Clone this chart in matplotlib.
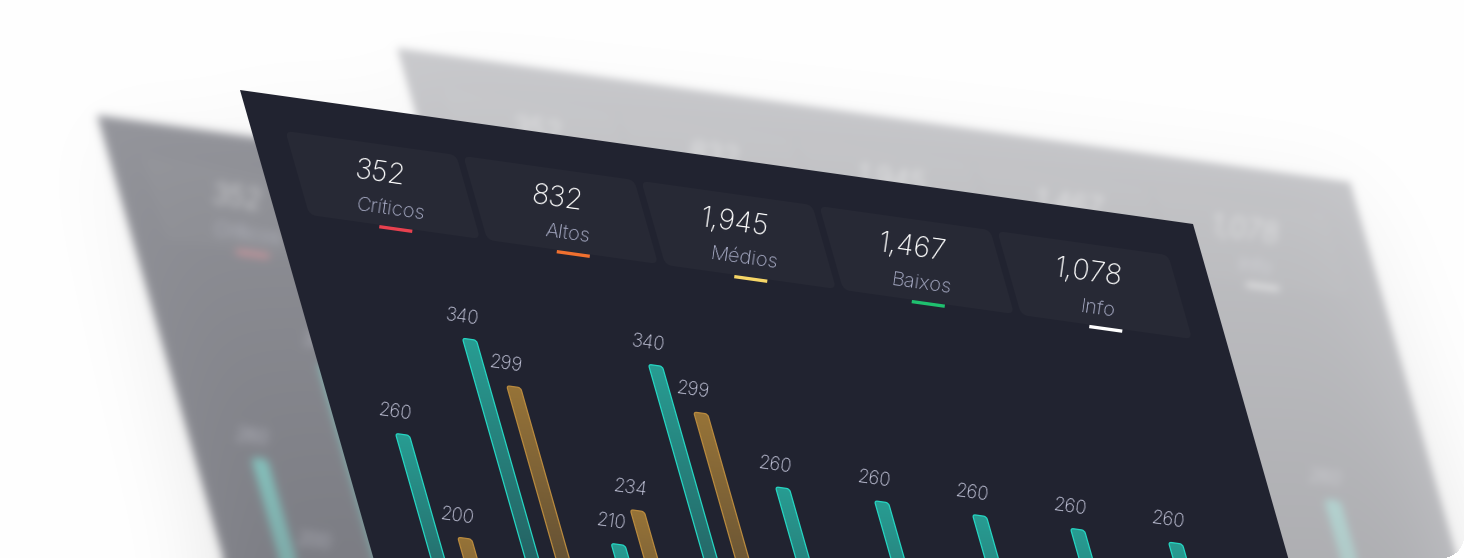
# -*- coding: utf-8 -*-
"""Tilted security dashboard with two blurred copies behind it."""
import numpy as np
import matplotlib
matplotlib.use("Agg")
import matplotlib.pyplot as plt
from matplotlib.patches import FancyBboxPatch, Polygon
from matplotlib.transforms import Affine2D

plt.rcParams["font.family"] = ["Inter", "DejaVu Sans"]

W, H = 1464, 558

# summary cards
card_values = ["352", "832", "1,945", "1,467", "1,078"]
card_names = ["Críticos", "Altos", "Médios", "Baixos", "Info"]
card_colors = ["#e8414f", "#f0702f", "#f6d667", "#1fc06f", "#ffffff"]

# bars, one teal per group and amber only on the first four groups
teal_values = [260, 340, 210, 340, 260, 260, 260, 260, 260]
amber_values = [200, 299, 234, 299]

# the bars in this mockup are not to scale, so the value axis is warped
scale_values = [200, 210, 234, 260, 299, 340]
scale_heights = [256, 272, 310, 355, 421, 464]

# layout, in panel units (u along the top edge, v down the left edge)
TEAL_U = [60, 158, 252, 344, 440, 539, 637, 735, 833]
AMBER_U = [94, 190, 282, 377]
BAR_W = 14
BASE_V = 690
SHEAR_X, SHEAR_Y = 0.285, 0.1406
ANGLE = -8

PANEL = "#212330"
CARD = "#272935"


def panel_transform(ax, ox, oy):
    matrix = [[1, SHEAR_X, ox], [SHEAR_Y, 1, oy], [0, 0, 1]]
    return Affine2D(np.array(matrix, dtype=float)) + ax.transData


def draw_bar(ax, tf, u, value, top_rgb, edge):
    top_v = BASE_V - np.interp(value, scale_values, scale_heights)
    patch = FancyBboxPatch((u, top_v), BAR_W, BASE_V - top_v,
                           boxstyle="round,pad=0,rounding_size=3",
                           facecolor="none", edgecolor=edge, linewidth=0.9,
                           transform=tf, zorder=4)
    ax.add_patch(patch)
    # vertical fade towards the panel colour
    panel_rgb = np.array(matplotlib.colors.to_rgb(PANEL))
    t = np.linspace(0, 1, 128)[:, None, None]
    grad = (1 - t) * np.array(top_rgb)[None, None, :] / 255 + t * panel_rgb[None, None, :]
    im = ax.imshow(grad, extent=(u, u + BAR_W, BASE_V, top_v), aspect="auto",
                   interpolation="bilinear", zorder=3)
    im.set_transform(tf)
    im.set_clip_path(patch)
    ax.text(u + BAR_W / 2 - 1.5, top_v - 22, str(value), transform=tf, color="#c6c8dd",
            fontsize=13.5, fontweight="light", ha="center", va="center",
            rotation=ANGLE, rotation_mode="anchor", zorder=5)


def draw_dashboard(ax, ox, oy):
    tf = panel_transform(ax, ox, oy)
    ax.add_patch(Polygon([(0, 0), (953, 0), (953, 800), (0, 800)], closed=True,
                         facecolor=PANEL, edgecolor="none", transform=tf, zorder=1))
    for i, name in enumerate(card_names):
        u0 = 35 + 178 * i
        ax.add_patch(FancyBboxPatch((u0, 36), 171, 84,
                                    boxstyle="round,pad=0,rounding_size=7",
                                    facecolor=CARD, edgecolor="none", transform=tf, zorder=2))
        mid = 121 + 177 * i
        ax.text(mid, 67, card_values[i], transform=tf, color="white", fontsize=20.5,
                fontweight="light", ha="center", va="center",
                rotation=ANGLE, rotation_mode="anchor", zorder=5)
        ax.text(mid, 102.5, name, transform=tf, color="#aaaec8", fontsize=14.5,
                fontweight="light", ha="center", va="center",
                rotation=ANGLE, rotation_mode="anchor", zorder=5)
        line_mid = 121 + 177.5 * i
        ax.plot([line_mid - 16.5, line_mid + 16.5], [122, 122], color=card_colors[i], lw=2.4,
                solid_capstyle="butt", transform=tf, zorder=5)
    for u, value in zip(TEAL_U, teal_values):
        draw_bar(ax, tf, u, value, (40, 156, 146), "#25d6c2")
    for u, value in zip(AMBER_U, amber_values):
        draw_bar(ax, tf, u, value, (150, 115, 56), "#b98a3e")
    ax.set_xlim(0, W)
    ax.set_ylim(H, 0)


def new_canvas():
    fig = plt.figure(figsize=(W / 100, H / 100), dpi=100)
    fig.patch.set_alpha(0)
    ax = fig.add_axes([0, 0, 1, 1])
    ax.set_axis_off()
    ax.patch.set_alpha(0)
    return fig, ax


def render_layer(ox, oy):
    fig, ax = new_canvas()
    draw_dashboard(ax, ox, oy)
    fig.canvas.draw()
    arr = np.asarray(fig.canvas.buffer_rgba()).astype(float) / 255
    plt.close(fig)
    return arr


def blur(arr, sigma):
    # gaussian blur done in the frequency domain, edges extended first
    pad = int(sigma * 3) + 2
    pad_width = [(pad, pad), (pad, pad)] + [(0, 0)] * (arr.ndim - 2)
    big = np.pad(arr, pad_width, mode="edge")
    fy = np.fft.fftfreq(big.shape[0])[:, None]
    fx = np.fft.rfftfreq(big.shape[1])[None, :]
    kernel = np.exp(-2 * (np.pi * sigma) ** 2 * (fx ** 2 + fy ** 2))
    if arr.ndim == 3:
        kernel = kernel[:, :, None]
    out = np.fft.irfft2(np.fft.rfft2(big, axes=(0, 1)) * kernel,
                        s=big.shape[:2], axes=(0, 1))
    return out[pad:-pad, pad:-pad]


def composite(base, layer, sigma, alpha_top, alpha_bottom):
    premult = layer.copy()
    premult[..., :3] *= layer[..., 3:4]
    premult = blur(premult, sigma)
    k = np.linspace(alpha_top, alpha_bottom, H)[:, None, None]
    return premult[..., :3] * k + base * (1 - premult[..., 3:4] * k)


right_layer = render_layer(397, 48)
left_layer = render_layer(97, 115)
main_layer = render_layer(240, 90)

# soft shadow under the three panels, stronger towards the bottom
mask = np.clip(right_layer[..., 3] + left_layer[..., 3] + main_layer[..., 3], 0, 1)
shade = blur(mask, 45)
fade = np.linspace(0.01, 0.11, H)[:, None]
base = np.ones((H, W, 3)) * (1 - fade[..., None] * shade[..., None])

base = composite(base, right_layer, 4.0, 0.235, 0.27)
base = composite(base, left_layer, 4.5, 0.46, 0.53)

# rounded card corners
yy, xx = np.mgrid[0:H, 0:W]
R = 22
cx = np.clip(xx + 0.5, 0, W - R)
cy = np.clip(yy + 0.5, 0, H - R)
outside = np.hypot(xx + 0.5 - cx, yy + 0.5 - cy) > R
base[outside & (xx > W - R) & (yy > H - R)] = 1.0

fig, ax = new_canvas()
fig.patch.set_alpha(1)
ax.imshow(base, extent=(0, W, H, 0), aspect="auto", interpolation="nearest", zorder=0)
draw_dashboard(ax, 240, 90)
fig.savefig("out.png", dpi=100)
plt.close(fig)
